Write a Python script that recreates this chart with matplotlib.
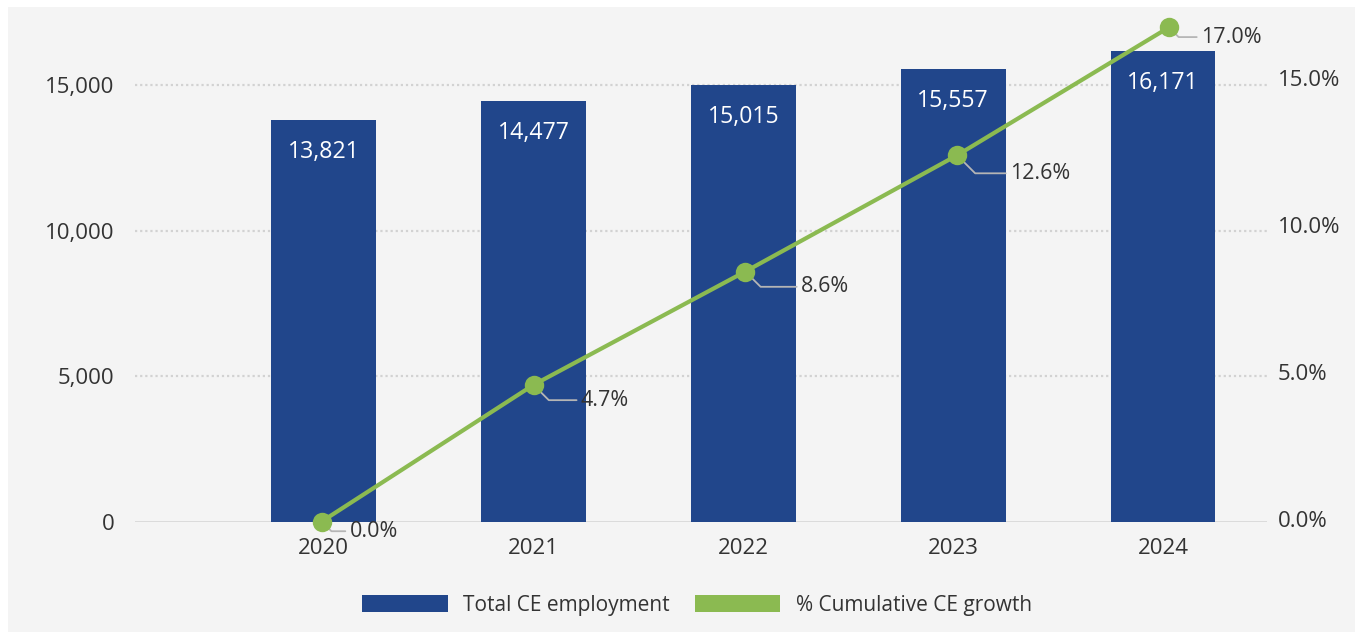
import matplotlib
matplotlib.use("Agg")
import matplotlib.pyplot as plt
from matplotlib.patches import Rectangle, Patch

plt.rcParams['font.family'] = ['Open Sans', 'DejaVu Sans']

# ---- data ----
years = ["2020", "2021", "2022", "2023", "2024"]
employment = [13821, 14477, 15015, 15557, 16171]
cum_growth = [0.0, 4.7, 8.6, 12.6, 17.0]
left_ticks = [0, 5000, 10000, 15000]
right_ticks = [0, 5, 10, 15]
legend_labels = ["Total CE employment", "% Cumulative CE growth"]

# ---- style ----
BAR = "#21468b"
GREEN = "#8bba51"
BG = "#f4f4f4"
TXT = "#333333"
# label offsets (points) for percentage labels: (dx, dy)
pct_offsets = [(20, -7), (34, -11), (40, -11), (38, -13), (23, -7)]

W, H = 1355, 633
fig = plt.figure(figsize=(W / 100, H / 100), dpi=100)
fig.patch.set_facecolor("white")
fig.patches.append(Rectangle((8 / W, 1 / H), 1 - 8 / W, 625 / H,
                             transform=fig.transFigure, facecolor=BG,
                             edgecolor="none", zorder=-10))

rect = [135 / W, (H - 521.5) / H, (1267 - 135) / W, 0.8036]
ax = fig.add_axes(rect)
ax.set_facecolor("none")
x = list(range(len(years)))

ax.set_xlim(-0.9, 4.496)
ax.set_ylim(0, 17500)

for y in left_ticks[1:]:
    ax.axhline(y, color="#d2d2d2", lw=1.6, ls=(0, (1, 1.3)), zorder=1)
ax.axhline(0, color="#d9d9d9", lw=2.0, zorder=1)

ax.bar(x, employment, width=0.5, color=BAR, zorder=2)
for xi, v in zip(x, employment):
    ax.annotate(f"{v:,}", xy=(xi, v), xytext=(0, -23), textcoords="offset points",
                ha="center", va="center", color="white", fontsize=16.7, zorder=3)

ax.set_yticks(left_ticks)
ax.set_yticklabels([f"{t:,}" for t in left_ticks])
ax.set_xticks(x)
ax.set_xticklabels(years)
ax.tick_params(axis="y", length=0, pad=15, labelsize=16, labelcolor=TXT)
ax.tick_params(axis="x", length=0, pad=12, labelsize=16, labelcolor=TXT)
for s in ax.spines.values():
    s.set_visible(False)

# right-hand percentage tick labels
ax2 = fig.add_axes(rect, label="right")
ax2.set_facecolor("none")
ax2.set_ylim(-0.085, 17.2)
ax2.set_yticks(right_ticks)
ax2.set_yticklabels([f"{t:.1f}%" for t in right_ticks])
ax2.yaxis.tick_right()
ax2.set_xticks([])
ax2.tick_params(axis="y", length=0, pad=8, labelsize=16, labelcolor=TXT)
for s in ax2.spines.values():
    s.set_visible(False)

# growth line
ax3 = fig.add_axes(rect, label="line")
ax3.set_facecolor("none")
ax3.set_xlim(-0.8815, 4.463)
ax3.set_ylim(0, 17.5)
ax3.axis("off")
ax3.plot(x, cum_growth, color=GREEN, lw=3, marker="o", markersize=14,
         markeredgewidth=0, zorder=5, solid_capstyle="round", clip_on=False)
for xi, v, (dx, dy) in zip(x, cum_growth, pct_offsets):
    ax3.annotate(f"{v:.1f}%", xy=(xi, v), xytext=(dx, dy), textcoords="offset points",
                 ha="left", va="center", color=TXT, fontsize=15.5, zorder=4,
                 arrowprops=dict(arrowstyle="-", color="#b5b5b5", lw=1.3,
                                 shrinkA=1, shrinkB=6,
                                 connectionstyle="angle,angleA=0,angleB=-45,rad=0"))

handles = [Patch(facecolor=BAR, edgecolor="none"), Patch(facecolor=GREEN, edgecolor="none")]
fig.legend(handles, legend_labels, loc="center", bbox_to_anchor=(697 / W, (H - 605) / H),
           ncol=2, frameon=False, fontsize=15, handlelength=4.1, handleheight=0.87,
           handletextpad=0.75, columnspacing=1.2, labelcolor=TXT)

fig.savefig("out.png", dpi=100, facecolor="white")
